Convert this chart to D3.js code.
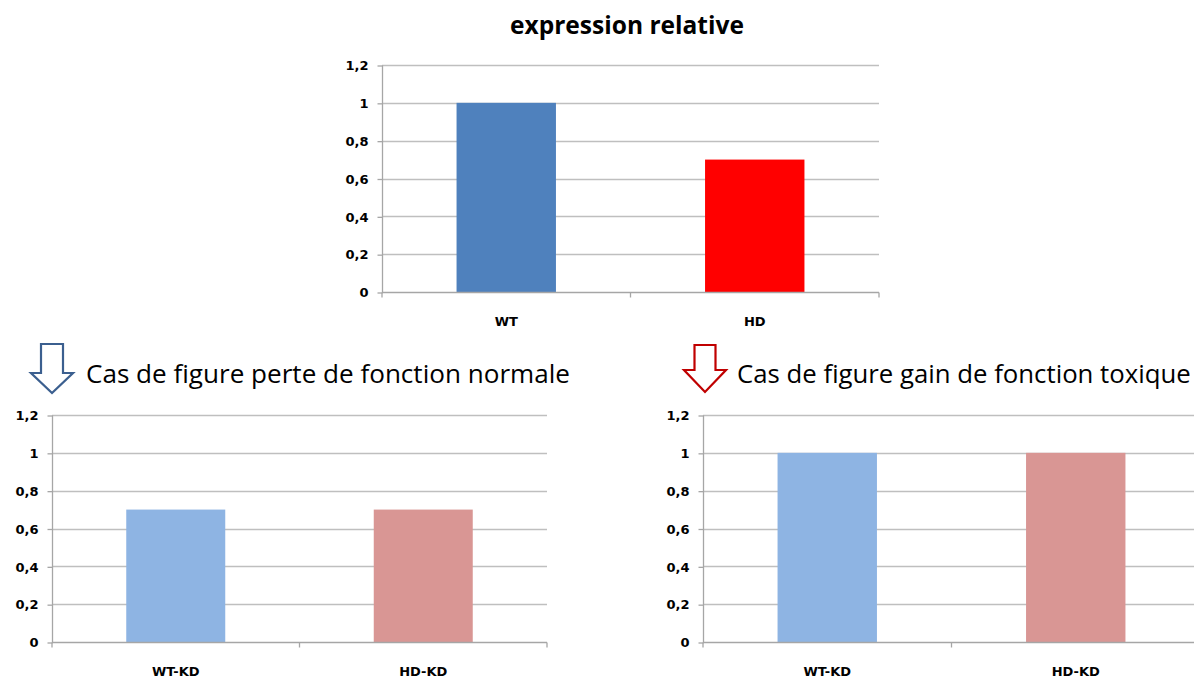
<!DOCTYPE html>
<html>
<head>
<meta charset="utf-8">
<script src="https://cdn.jsdelivr.net/npm/d3@7"></script>
<style>
  html, body { margin: 0; padding: 0; background: #fff; overflow: hidden; }
  svg { display: block; }
</style>
</head>
<body>
<svg id="chart" width="1194" height="678"></svg>
<script>
// Relative expression values, one small array per panel
const topCategories = ["WT", "HD"];
const topValues = [1, 0.7];
const topColors = ["#4f81bd", "#ff0000"];

const lossCategories = ["WT-KD", "HD-KD"];
const lossValues = [0.7, 0.7];

const gainCategories = ["WT-KD", "HD-KD"];
const gainValues = [1, 1];

const kdColors = ["#8eb4e3", "#d99694"];

const yTicks = [0, 0.2, 0.4, 0.6, 0.8, 1, 1.2];
const yMax = 1.2;

const titleText = "expression relative";
const lossHeading = "Cas de figure perte de fonction normale";
const gainHeading = "Cas de figure gain de fonction toxique";

const svg = d3.select("#chart");
const gridColor = "#bfbfbf";
const axisColor = "#a6a6a6";
const tickFont = "'DejaVu Sans', Verdana, sans-serif";
const tickSize = 13;
const headFont = "'Open Sans', 'Noto Sans', sans-serif";

const fmt = v => String(v).replace(".", ",");

function drawPanel(box, categories, values, colors) {
  const g = svg.append("g");
  const y = d3.scaleLinear().domain([0, yMax]).range([box.bottom, box.top]);
  const x = d3.scaleBand().domain(categories).range([box.left, box.right])
    .paddingInner(0.6).paddingOuter(0.3);

  // horizontal gridlines
  g.append("g").selectAll("line").data(yTicks.filter(t => t > 0)).join("line")
    .attr("x1", box.left).attr("x2", box.right)
    .attr("y1", d => Math.round(y(d)) + 0.5).attr("y2", d => Math.round(y(d)) + 0.5)
    .attr("stroke", gridColor).attr("stroke-width", 1.3);

  // bars
  g.append("g").selectAll("rect").data(categories).join("rect")
    .attr("x", d => x(d))
    .attr("width", x.bandwidth())
    .attr("y", (d, i) => y(values[i]))
    .attr("height", (d, i) => y(0) - y(values[i]))
    .attr("fill", (d, i) => colors[i]);

  // value axis
  const yAxis = d3.axisLeft(y).tickValues(yTicks).tickSize(5).tickPadding(9).tickFormat(fmt);
  const ya = g.append("g").attr("transform", `translate(${box.left + 0.5},0.5)`).call(yAxis);
  ya.attr("font-size", tickSize).attr("font-family", tickFont);
  ya.select(".domain").attr("stroke", axisColor).attr("stroke-width", 1.3).attr("d", `M0,${y(yMax)}V${y(0)}`);
  ya.selectAll(".tick line").attr("stroke", axisColor).attr("stroke-width", 1.3);
  ya.selectAll(".tick text")
    .attr("font-family", tickFont).attr("font-weight", "bold").attr("font-size", tickSize)
    .attr("fill", "#000");

  // category axis with boundary ticks
  const step = x.step();
  const bounds = categories.map(c => x(c) - x.paddingOuter() * step).concat([box.right]);
  const base = Math.round(y(0)) + 0.5;
  g.append("line").attr("x1", box.left).attr("x2", box.right)
    .attr("y1", base).attr("y2", base)
    .attr("stroke", axisColor).attr("stroke-width", 1.3);
  g.append("g").selectAll("line").data(bounds).join("line")
    .attr("x1", d => d).attr("x2", d => d)
    .attr("y1", base).attr("y2", base + 5)
    .attr("stroke", axisColor).attr("stroke-width", 1.3);
  g.append("g").selectAll("text").data(categories).join("text")
    .attr("x", d => x(d) + x.bandwidth() / 2)
    .attr("y", base + 33)
    .attr("text-anchor", "middle")
    .attr("font-family", tickFont).attr("font-weight", "bold").attr("font-size", tickSize)
    .attr("fill", "#000")
    .text(d => d);
}

// Fit a text element's font size to a target width
function fitText(sel, width) {
  const fs = parseFloat(sel.attr("font-size"));
  const w = sel.node().getComputedTextLength();
  if (w > 0) sel.attr("font-size", fs * width / w);
  return parseFloat(sel.attr("font-size"));
}

// Chart title
const title = svg.append("text")
  .attr("x", 627).attr("y", 34)
  .attr("text-anchor", "middle")
  .attr("font-family", headFont).attr("font-weight", "bold").attr("font-size", 24)
  .attr("fill", "#000").text(titleText);
fitText(title, 234);

drawPanel({ left: 382, right: 879, top: 65, bottom: 292 }, topCategories, topValues, topColors);
drawPanel({ left: 52, right: 547, top: 415, bottom: 642 }, lossCategories, lossValues, kdColors);
drawPanel({ left: 703, right: 1200, top: 415, bottom: 642 }, gainCategories, gainValues, kdColors);

// Section headings
const h1 = svg.append("text")
  .attr("x", 86).attr("y", 383)
  .attr("font-family", headFont).attr("font-size", 26)
  .attr("fill", "#000").text(lossHeading);
fitText(h1, 484);
const h2 = svg.append("text")
  .attr("x", 737).attr("y", 383)
  .attr("font-family", headFont).attr("font-size", 26)
  .attr("fill", "#000").text(gainHeading);
fitText(h2, 454);

// Hollow down arrows next to the headings
function downArrow(cx, top, bottom, halfHead, halfShaft, neck, color) {
  const p = d3.path();
  p.moveTo(cx - halfShaft, top);
  p.lineTo(cx + halfShaft, top);
  p.lineTo(cx + halfShaft, neck);
  p.lineTo(cx + halfHead, neck);
  p.lineTo(cx, bottom);
  p.lineTo(cx - halfHead, neck);
  p.lineTo(cx - halfShaft, neck);
  p.closePath();
  svg.append("path").attr("d", p.toString())
    .attr("fill", "#fff").attr("stroke", color).attr("stroke-width", 2.2)
    .attr("stroke-linejoin", "miter");
}
downArrow(52, 344, 393, 21, 11, 373, "#3b5f8f");
downArrow(705, 345, 392, 21, 10.5, 370, "#c00000");
</script>
</body>
</html>
